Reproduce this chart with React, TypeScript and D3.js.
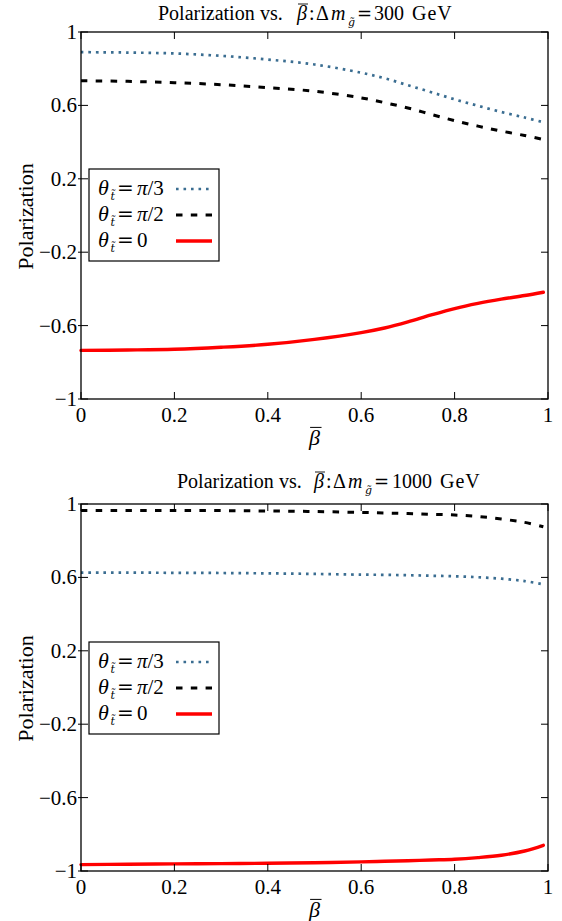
import React from "react";
import * as d3 from "d3";

// beta-bar sample points shared by every curve
const BETA = [0, 0.1, 0.2, 0.3, 0.4, 0.5, 0.6, 0.65, 0.7, 0.75, 0.8, 0.85, 0.9, 0.95, 0.99];

// Delta m = 300 GeV
const P300_PI3 = [0.890, 0.888, 0.883, 0.870, 0.850, 0.823, 0.778, 0.748, 0.710, 0.672, 0.633, 0.598, 0.564, 0.534, 0.508];
const P300_PI2 = [0.734, 0.731, 0.724, 0.713, 0.697, 0.677, 0.641, 0.615, 0.586, 0.551, 0.517, 0.487, 0.460, 0.436, 0.414];
const P300_ZERO = [-0.735, -0.733, -0.729, -0.718, -0.702, -0.675, -0.638, -0.613, -0.580, -0.542, -0.507, -0.479, -0.456, -0.436, -0.418];

// Delta m = 1000 GeV
const P1000_PI3 = [0.626, 0.626, 0.625, 0.624, 0.622, 0.619, 0.615, 0.614, 0.612, 0.609, 0.606, 0.601, 0.593, 0.580, 0.562];
const P1000_PI2 = [0.965, 0.965, 0.965, 0.964, 0.962, 0.959, 0.954, 0.951, 0.948, 0.944, 0.940, 0.932, 0.918, 0.900, 0.876];
const P1000_ZERO = [-0.965, -0.963, -0.961, -0.960, -0.958, -0.955, -0.950, -0.947, -0.944, -0.940, -0.936, -0.927, -0.914, -0.891, -0.860];

const X_TICKS = [0, 0.2, 0.4, 0.6, 0.8, 1];
const Y_TICKS = [1, 0.6, 0.2, -0.2, -0.6, -1];

// title pieces are placed one by one (TeX-like math spacing)
const PANELS = [
  {
    mass: "300", top: 32, bottom: 399, titleY: 20, legendTop: 169,
    pi3: P300_PI3, pi2: P300_PI2, zero: P300_ZERO,
    tx: { pol: 158, vs: 260, beta: 297, colon: 309, delta: 316, m: 331, sub: 348, eq: 357, num: 374, gev: 412 },
  },
  {
    mass: "1000", top: 504, bottom: 871, titleY: 488, legendTop: 642,
    pi3: P1000_PI3, pi2: P1000_PI2, zero: P1000_ZERO,
    tx: { pol: 177, vs: 279, beta: 314, colon: 326, delta: 333, m: 348, sub: 365, eq: 374, num: 392, gev: 440 },
  },
];

const LEFT = 81;
const RIGHT = 548;
const FONT = "Liberation Serif, Times New Roman, DejaVu Serif, serif";
const ACCENT_FONT = "DejaVu Serif, serif";
const BLUE = "#3a6d91";

const STYLES = {
  pi3: { stroke: BLUE, width: 2.7, dash: "2.6,4.9", cap: "butt" },
  pi2: { stroke: "#000", width: 3, dash: "6.5,8.3", cap: "butt" },
  zero: { stroke: "#ff0000", width: 3.4, dash: null, cap: "round" },
};

const fmt = (v: number) => {
  const s = d3.format("")(Math.round(v * 10) / 10);
  return s.replace("-", "\u2212");
};

function BetaBar({ x, y, size }: { x: number; y: number; size: number }) {
  return (
    <g>
      <text x={x} y={y} fontFamily={FONT} fontStyle="italic" fontSize={size} textAnchor="middle">β</text>
      <line x1={x - size * 0.2} x2={x + size * 0.32} y1={y - size * 0.8} y2={y - size * 0.8} stroke="#000" strokeWidth={1} />
    </g>
  );
}

function Theta({ x, y, rhs }: { x: number; y: number; rhs: React.ReactNode }) {
  return (
    <text y={y} fontFamily={FONT} fontSize={21}>
      <tspan x={x} fontStyle="italic" fontSize={22}>θ</tspan>
      <tspan x={x + 12.5} fontFamily={ACCENT_FONT} fontStyle="italic" fontSize={11} dy={5}>t̃</tspan>
      <tspan x={x + 19} dy={-5} fontFamily={ACCENT_FONT} fontSize={20}>=</tspan>
      <tspan x={x + 39}>{rhs}</tspan>
    </text>
  );
}

function Panel({ cfg }: { cfg: typeof PANELS[number] }) {
  const x = d3.scaleLinear().domain([0, 1]).range([LEFT, RIGHT]);
  const y = d3.scaleLinear().domain([-1, 1]).range([cfg.bottom, cfg.top]);
  const line = d3
    .line<number>()
    .x((_, i) => x(BETA[i]))
    .y((d) => y(d))
    .curve(d3.curveCatmullRom.alpha(0.5));

  const series = [
    { key: "pi3", data: cfg.pi3 },
    { key: "pi2", data: cfg.pi2 },
    { key: "zero", data: cfg.zero },
  ] as const;

  const lt = cfg.legendTop;
  const legendRows = [
    { key: "pi3", lineY: lt + 20, textY: lt + 26, rhs: <><tspan fontStyle="italic">π</tspan><tspan>/3</tspan></> },
    { key: "pi2", lineY: lt + 46, textY: lt + 52, rhs: <><tspan fontStyle="italic">π</tspan><tspan>/2</tspan></> },
    { key: "zero", lineY: lt + 72, textY: lt + 78, rhs: <tspan>0</tspan> },
  ] as const;

  const midY = (cfg.top + cfg.bottom) / 2;
  const t = cfg.tx;

  return (
    <g>
      {/* title */}
      <text y={cfg.titleY} fontFamily={FONT} fontSize={20}>
        <tspan x={t.pol}>Polarization</tspan>
        <tspan x={t.vs}>vs.</tspan>
        <tspan x={t.beta} fontStyle="italic">β</tspan>
        <tspan x={t.colon}>:</tspan>
        <tspan x={t.delta}>Δ</tspan>
        <tspan x={t.m} fontStyle="italic">m</tspan>
        <tspan x={t.sub} fontFamily={ACCENT_FONT} fontStyle="italic" fontSize={11} dy={6}>g̃</tspan>
        <tspan x={t.eq} dy={-6} fontFamily={ACCENT_FONT} fontSize={18}>=</tspan>
        <tspan x={t.num}>{cfg.mass}</tspan>
        <tspan x={t.gev} letterSpacing={1}>GeV</tspan>
      </text>
      <line x1={t.beta + 1} x2={t.beta + 11} y1={cfg.titleY - 16} y2={cfg.titleY - 16} stroke="#000" strokeWidth={0.9} />

      {/* curves */}
      {series.map((s) => {
        const st = STYLES[s.key];
        return (
          <path
            key={s.key}
            d={line(s.data as unknown as number[]) || ""}
            fill="none"
            stroke={st.stroke}
            strokeWidth={st.width}
            strokeDasharray={st.dash || undefined}
            strokeLinecap={st.cap as any}
          />
        );
      })}

      {/* frame */}
      <rect x={LEFT} y={cfg.top} width={RIGHT - LEFT} height={cfg.bottom - cfg.top} fill="none" stroke="#000" strokeWidth={1.3} />

      {/* x ticks */}
      {X_TICKS.map((v) => (
        <g key={"x" + v}>
          <line x1={x(v)} x2={x(v)} y1={cfg.bottom} y2={cfg.bottom - 7} stroke="#000" strokeWidth={1} />
          <line x1={x(v)} x2={x(v)} y1={cfg.top} y2={cfg.top + 7} stroke="#000" strokeWidth={1} />
          <text x={x(v)} y={cfg.bottom + 23} fontFamily={FONT} fontSize={21} textAnchor="middle">{fmt(v)}</text>
        </g>
      ))}

      {/* y ticks */}
      {Y_TICKS.map((v) => (
        <g key={"y" + v}>
          <line x1={LEFT - 3} x2={LEFT + 7} y1={y(v)} y2={y(v)} stroke="#000" strokeWidth={1} />
          <line x1={RIGHT} x2={RIGHT - 7} y1={y(v)} y2={y(v)} stroke="#000" strokeWidth={1} />
          <text x={LEFT - 4} y={y(v) + 7} fontFamily={FONT} fontSize={21} textAnchor="end">{fmt(v)}</text>
        </g>
      ))}

      {/* axis labels */}
      <text transform={`translate(33,${midY + 1}) rotate(-90)`} fontFamily={FONT} fontSize={22} textAnchor="middle">Polarization</text>
      <BetaBar x={(LEFT + RIGHT) / 2} y={cfg.bottom + 46} size={22} />

      {/* legend */}
      <rect x={89} y={lt} width={130} height={92} fill="#fff" stroke="#000" strokeWidth={1.2} />
      {legendRows.map((r) => {
        const st = STYLES[r.key];
        return (
          <g key={r.key}>
            <Theta x={98} y={r.textY} rhs={r.rhs} />
            <line
              x1={176}
              x2={212}
              y1={r.lineY}
              y2={r.lineY}
              stroke={st.stroke}
              strokeWidth={st.width}
              strokeDasharray={st.dash || undefined}
            />
          </g>
        );
      })}
    </g>
  );
}

export default function App() {
  return (
    <svg
      width={562}
      height={921}
      viewBox="0 0 562 921"
      style={{ position: "absolute", left: 0, top: 0, background: "#fff" }}
    >
      <rect width={562} height={921} fill="#fff" />
      {PANELS.map((p) => (
        <Panel key={p.mass} cfg={p} />
      ))}
    </svg>
  );
}
